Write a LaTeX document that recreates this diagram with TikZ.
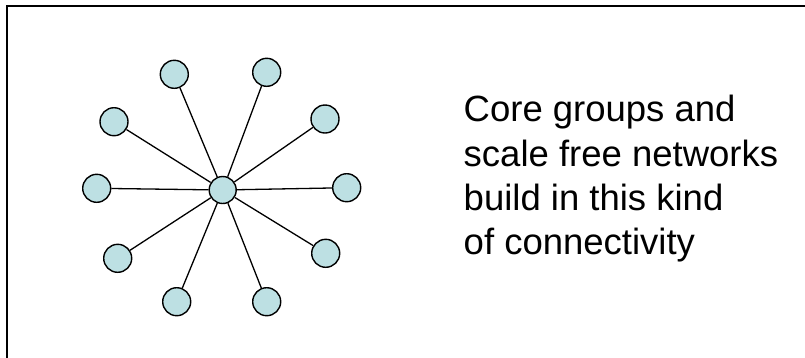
\documentclass[tikz,border=0pt]{standalone}
\usepackage{fontspec}
\setmainfont{Liberation Sans}
\definecolor{nodefill}{RGB}{189,224,227}
\begin{document}
\begin{tikzpicture}[x=1pt,y=-1pt,
  hub/.style={circle,draw=black,line width=1.4pt,fill=nodefill,minimum size=27pt,inner sep=0pt},
  leaf/.style={circle,draw=black,line width=1.4pt,fill=nodefill,minimum size=28pt,inner sep=0pt},
  edge/.style={draw=black,line width=1.3pt},
  txt/.style={anchor=base west,inner sep=0pt,font=\fontsize{36.5}{44.4}\selectfont}]
\useasboundingbox (0,0) rectangle (805,357);
\clip (0,0) rectangle (805,357);
\draw[line width=2pt] (7.2,6) rectangle (820,370);
\node[hub] (c) at (222.7,190) {};
\node[leaf] (n1) at (174.3,74.3) {};
\node[leaf] (n2) at (266.7,72.3) {};
\node[leaf] (n3) at (114,121.7) {};
\node[leaf] (n4) at (325,119) {};
\node[leaf] (n5) at (96.7,188.3) {};
\node[leaf] (n6) at (346.7,187.7) {};
\node[leaf] (n7) at (117.7,258.3) {};
\node[leaf] (n8) at (325.7,253.3) {};
\node[leaf] (n9) at (176.7,301.7) {};
\node[leaf] (n10) at (266.7,301.7) {};
\begin{scope}[on background layer/.style={}]
\foreach \n in {n1,n2,n3,n4,n5,n6,n7,n8,n9,n10}
  \path[edge] (c) -- (\n);
\end{scope}
\node[txt] (t1) at (463.5,121.7) {Core groups and};
\node[txt] (t2) at (463.5,166.1) {scale free networks};
\node[txt] (t3) at (463.5,210.5) {build in this kind};
\node[txt] (t4) at (463.5,254.9) {of connectivity};
\end{tikzpicture}
\end{document}
